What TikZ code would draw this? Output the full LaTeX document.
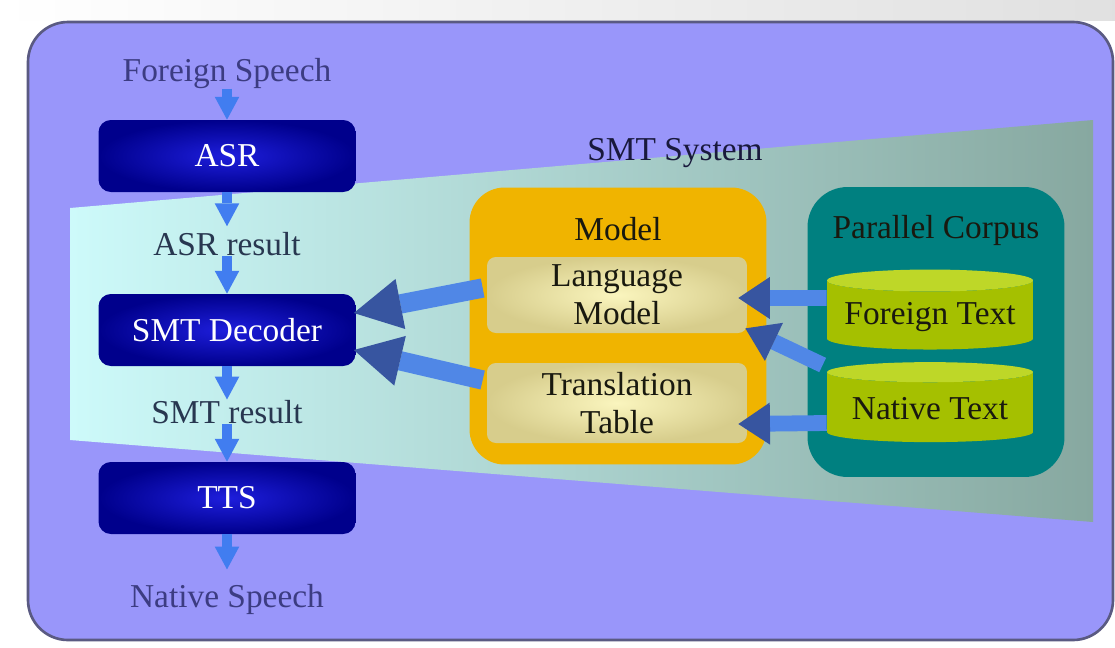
\documentclass[tikz,border=0pt]{standalone}
\usepackage{fontspec}
\setmainfont{Liberation Serif}
\usetikzlibrary{arrows.meta,shapes.geometric,calc}
\definecolor{framebg}{RGB}{153,150,250}
\definecolor{framedk}{RGB}{90,90,130}
\definecolor{syslt}{RGB}{205,250,250}
\definecolor{sysdk}{RGB}{135,168,160}
\definecolor{stagelt}{RGB}{30,30,220}
\definecolor{stagedk}{RGB}{0,0,140}
\definecolor{speechink}{RGB}{60,60,130}
\definecolor{resink}{RGB}{40,55,80}
\definecolor{sysink}{RGB}{25,25,60}
\definecolor{modelbg}{RGB}{240,180,0}
\definecolor{partlt}{RGB}{250,245,190}
\definecolor{partdk}{RGB}{215,205,140}
\definecolor{corpusbg}{RGB}{0,128,128}
\definecolor{diskbody}{RGB}{165,192,0}
\definecolor{disktop}{RGB}{190,215,40}
\definecolor{inktext}{RGB}{25,25,15}
\definecolor{flowblue}{RGB}{65,125,240}
\definecolor{feedblue}{RGB}{80,135,230}
\definecolor{feeddark}{RGB}{55,85,160}
\begin{document}
\begin{tikzpicture}[x=0.02cm,y=-0.02cm,font=\fontsize{19}{22}\selectfont,
    stage/.style={rounded corners=7pt,minimum width=5.14cm,minimum height=1.44cm,inner color=stagelt,outer color=stagedk,text=white},
    flowlbl/.style={inner sep=0pt,anchor=base},
    part/.style={rounded corners=5pt,minimum width=5.2cm,inner color=partlt,outer color=partdk,text=inktext,align=center,font=\fontsize{19}{21.6}\selectfont},
    disk/.style={cylinder,shape border rotate=90,aspect=0.12,cylinder uses custom fill,cylinder body fill=diskbody,cylinder end fill=disktop,minimum width=4.12cm,minimum height=1.6cm,inner ysep=2pt,text=inktext},
    flow/.style={draw=flowblue,line width=5.7pt,-{Triangle[width=14pt,length=13pt,line width=0pt]}},
    feed/.style={draw=feedblue,line width=11pt,-{Triangle[width=29pt,length=27pt,line width=0pt,color=feeddark]}},
    pull/.style={draw=feedblue,line width=9pt,-{Triangle[width=24pt,length=18pt,line width=0pt,color=feeddark]}}]
  \fill[white] (0,0) rectangle (1115,647) ;
  \shade[left color=white,right color=black!12] (0,0) rectangle (1115,20) ;
  \useasboundingbox (0,0) rectangle (1115,647) ;
  \draw[draw=framedk,line width=1.5pt,fill=framebg,rounded corners=0.8cm] (28,22) rectangle (1113,640) ;
  \shade[left color=syslt,right color=sysdk] (70,208) -- (1093,120) -- (1093,522) -- (70,440) -- cycle ;
  \node[text=sysink] (sys) at (675,153) {SMT System} ;

  \node[flowlbl,text=speechink] (fsp) at (227,81) {Foreign Speech} ;
  \node[stage] (asr) at (227,156) {ASR} ;
  \node[flowlbl,text=resink] (asrres) at (227,255) {ASR result} ;
  \node[stage] (dec) at (227,330) {SMT Decoder} ;
  \node[flowlbl,text=resink] (smtres) at (227,423) {SMT result} ;
  \node[stage] (tts) at (227,498) {TTS} ;
  \node[flowlbl,text=speechink] (nsp) at (227,607) {Native Speech} ;
  \draw[flow] (fsp) -- (asr) ;
  \draw[flow,shorten >=3pt] (asr) -- (asrres) ;
  \draw[flow] (asrres) -- (dec) ;
  \draw[flow] (dec) -- (smtres) ;
  \draw[flow] (smtres) -- (tts) ;
  \draw[flow,shorten >=8pt] (tts) -- (nsp) ;

  \node[rounded corners=0.7cm,minimum width=5.94cm,minimum height=5.54cm,fill=modelbg] (model) at (618,326) {} ;
  \node[text=inktext,anchor=base] (modeltitle) at (618,240) {Model} ;
  \node[part,minimum height=1.52cm] (lm) at (617,295) {Language\\Model} ;
  \node[part,minimum height=1.6cm] (tt) at (617,403) {Translation\\Table} ;

  \node[rounded corners=0.8cm,minimum width=5.14cm,minimum height=5.8cm,fill=corpusbg] (corpus) at (936,332) {} ;
  \node[text=inktext,anchor=base] (corpustitle) at (936,238) {Parallel Corpus} ;
  \node[disk] (ftext) at (930,317) {Foreign Text} ;
  \node[disk] (ntext) at (930,409) {Native Text} ;

  \draw[feed] ($(lm.west)+(-4,-7)$) -- ($(dec.east)+(-2,-17)$) ;
  \draw[feed] ($(tt.west)+(-4,-23)$) -- ($(dec.east)+(-2,20)$) ;
  \draw[pull] ($(ftext.west)+(0,-19)$) -- ($(lm.east)+(-9,3)$) ;
  \draw[pull] ($(ntext.west)+(-4,-44)$) -- ($(lm.south east)+(-2,-5)$) ;
  \draw[pull] ($(ntext.west)+(0,14)$) -- ($(tt.east)+(-9,21)$) ;
\end{tikzpicture}
\end{document}
